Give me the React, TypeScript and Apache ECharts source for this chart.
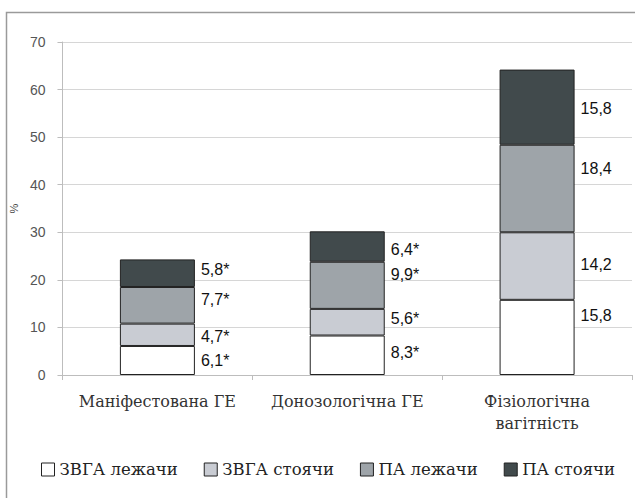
import React, { useEffect, useRef } from "react";
import * as echarts from "echarts";

const categories = ["Маніфестована ГЕ", "Донозологічна ГЕ", "Фізіологічна\nвагітність"];
const seriesNames = ["ЗВГА лежачи", "ЗВГА стоячи", "ПА лежачи", "ПА стоячи"];
const zvgaLying = [6.1, 8.3, 15.8];
const zvgaStanding = [4.7, 5.6, 14.2];
const paLying = [7.7, 9.9, 18.4];
const paStanding = [5.8, 6.4, 15.8];
const significant = [true, true, false];
const yTicks = [0, 10, 20, 30, 40, 50, 60, 70];

const colors = ["#ffffff", "#c9ccd3", "#9ea4a9", "#414a4c"];
const labelNudge = [
  [0, -3, -22],
  [2, -4, -2],
  [-6, -11, -20],
  [-4, 3, 1],
];
const SANS = "Liberation Sans";
const SERIF = "DejaVu Serif";

export default function App() {
  const ref = useRef<HTMLDivElement>(null);
  useEffect(() => {
    document.body.style.margin = "0";
    const chart = echarts.init(ref.current!, null, { renderer: "svg" });
    const values = [zvgaLying, zvgaStanding, paLying, paStanding];
    chart.setOption({
      animation: false,
      backgroundColor: "#ffffff",
      graphic: [
        {
          type: "rect",
          shape: { x: 6.5, y: 12.5, width: 700, height: 600 },
          style: { fill: "none", stroke: "#9a9a9a", lineWidth: 1.5 },
          silent: true,
        },
      ],
      grid: { left: 62, right: 3, top: 42, bottom: 123 },
      legend: {
        left: 36,
        right: 0,
        top: 456,
        itemWidth: 13,
        itemHeight: 13,
        itemGap: 26,
        icon: "rect",
        data: seriesNames,
        textStyle: { fontFamily: SERIF, fontSize: 16.5, color: "#222" },
        itemStyle: { borderColor: "#222", borderWidth: 1 },
      },
      xAxis: {
        type: "category",
        data: categories,
        axisLine: { lineStyle: { color: "#bdbdbd" } },
        axisTick: { show: true, length: 5, lineStyle: { color: "#bdbdbd" } },
        axisLabel: {
          fontFamily: SERIF,
          fontSize: 16,
          lineHeight: 22,
          color: "#333",
          margin: 15,
          interval: 0,
        },
      },
      yAxis: {
        type: "value",
        min: 0,
        max: 70,
        interval: 10,
        name: "%",
        nameLocation: "middle",
        nameRotate: 90,
        nameGap: 40,
        nameTextStyle: { fontFamily: SANS, fontSize: 11, color: "#444" },
        axisLine: { show: true, lineStyle: { color: "#bdbdbd" } },
        axisTick: { show: true, length: 5, lineStyle: { color: "#bdbdbd" } },
        axisLabel: {
          fontFamily: SANS,
          fontSize: 14,
          color: "#555",
          margin: 17,
          formatter: (v: number) => (yTicks.includes(v) ? String(v) : ""),
        },
        splitLine: { lineStyle: { color: "#d6d6d6" } },
      },
      series: seriesNames.map((name, si) => ({
        name,
        type: "bar",
        stack: "total",
        barWidth: 75,
        itemStyle: { color: colors[si], borderColor: "#222", borderWidth: 1 },
        data: values[si].map((v, ci) => ({
          value: v,
          label: { offset: [0, labelNudge[si][ci]] },
        })),
        label: {
          show: true,
          position: "right",
          distance: 6,
          fontFamily: SANS,
          fontSize: 16,
          color: "#111",
          formatter: (p: any) =>
            String(p.value).replace(".", ",") + (significant[p.dataIndex] ? "*" : ""),
        },
      })),
    });
    return () => chart.dispose();
  }, []);
  return <div ref={ref} style={{ width: 635, height: 498 }} />;
}
